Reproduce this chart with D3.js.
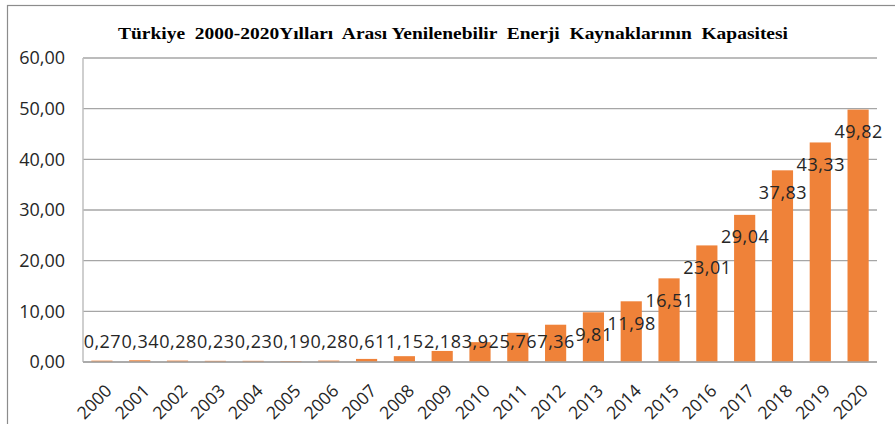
<!DOCTYPE html>
<html>
<head>
<meta charset="utf-8">
<script src="https://cdn.jsdelivr.net/npm/d3@7"></script>
<style>
  body { margin: 0; background: #fff; }
  text { font-family: "Open Sans", sans-serif; }
</style>
</head>
<body>
<svg id="chart" width="895" height="424"></svg>
<script>
const years = ["2000", "2001", "2002", "2003", "2004", "2005", "2006", "2007", "2008", "2009", "2010",
  "2011", "2012", "2013", "2014", "2015", "2016", "2017", "2018", "2019", "2020"];
const capacity = [0.27, 0.34, 0.28, 0.23, 0.23, 0.19, 0.28, 0.61, 1.15, 2.18, 3.92,
  5.76, 7.36, 9.81, 11.98, 16.51, 23.01, 29.04, 37.83, 43.33, 49.82];
const yTicks = [0, 10, 20, 30, 40, 50, 60];
const title = "Türkiye  2000-2020Yılları  Arası Yenilenebilir  Enerji  Kaynaklarının  Kapasitesi";

const svg = d3.select("#chart");
const margin = { top: 58, right: 18, bottom: 62, left: 83 };
const width = 895 - margin.left - margin.right;
const height = 424 - margin.top - margin.bottom;

const fmt = v => v.toFixed(2).replace(".", ",");

// outer frame of the chart area
svg.append("rect")
  .attr("x", 7.5).attr("y", 5.5)
  .attr("width", 900).attr("height", 430)
  .attr("fill", "none")
  .attr("stroke", "#8c8c8c")
  .attr("stroke-width", 1.2);

svg.append("text")
  .attr("x", 453)
  .attr("y", 39)
  .attr("text-anchor", "middle")
  .attr("xml:space", "preserve")
  .style("font-family", "'Liberation Serif', 'Times New Roman', serif")
  .style("font-weight", "bold")
  .style("font-size", "17px")
  .attr("textLength", 670)
  .attr("lengthAdjust", "spacingAndGlyphs")
  .attr("fill", "#000")
  .text(title);

const g = svg.append("g").attr("transform", `translate(${margin.left},${margin.top})`);

const x = d3.scaleBand().domain(years).range([0, width]).paddingInner(0.44).paddingOuter(0.22);
const y = d3.scaleLinear().domain([0, 60]).range([height, 0]);

// gridlines
g.append("g")
  .selectAll("line")
  .data(yTicks)
  .enter()
  .append("line")
  .attr("x1", 0)
  .attr("x2", width)
  .attr("y1", d => y(d))
  .attr("y2", d => y(d))
  .attr("stroke", "#a6a6a6")
  .attr("stroke-width", 1.3);

// y axis line
g.append("line")
  .attr("x1", 0).attr("x2", 0)
  .attr("y1", 0).attr("y2", height)
  .attr("stroke", "#bfbfbf")
  .attr("stroke-width", 1.5);

const yAxis = g.append("g")
  .call(d3.axisLeft(y).tickValues(yTicks).tickFormat(fmt).tickSize(0).tickPadding(18));
yAxis.select(".domain").remove();
yAxis.selectAll("text")
  .style("font-size", "18px")
  .attr("fill", "#262626");

g.append("g")
  .selectAll("rect")
  .data(capacity)
  .enter()
  .append("rect")
  .attr("x", (d, i) => x(years[i]))
  .attr("y", d => y(d))
  .attr("width", x.bandwidth())
  .attr("height", d => height - y(d))
  .attr("fill", "#ef8239");

// data labels (Excel put them just inside the bar top, but never below the 4,00 level)
g.append("g")
  .selectAll("text")
  .data(capacity)
  .enter()
  .append("text")
  .attr("x", (d, i) => x(years[i]) + x.bandwidth() / 2 + 0.5)
  .attr("y", d => Math.min(y(d) + 22, y(4)))
  .attr("dy", "0.35em")
  .attr("text-anchor", "middle")
  .style("font-size", "18px")
  .style("letter-spacing", "0.5px")
  .attr("fill", "#262626")
  .text(fmt);

const xAxis = g.append("g")
  .attr("transform", `translate(0,${height})`)
  .call(d3.axisBottom(x).tickSize(0).tickPadding(0));
xAxis.select(".domain").remove();
xAxis.selectAll("text")
  .style("font-size", "17.5px")
  .attr("fill", "#262626")
  .attr("text-anchor", "end")
  .attr("dy", "0")
  .attr("transform", "translate(11,30) rotate(-45)");

g.append("line")
  .attr("x1", 0).attr("x2", width)
  .attr("y1", height).attr("y2", height)
  .attr("stroke", "#a6a6a6")
  .attr("stroke-width", 1.3);
</script>
</body>
</html>
